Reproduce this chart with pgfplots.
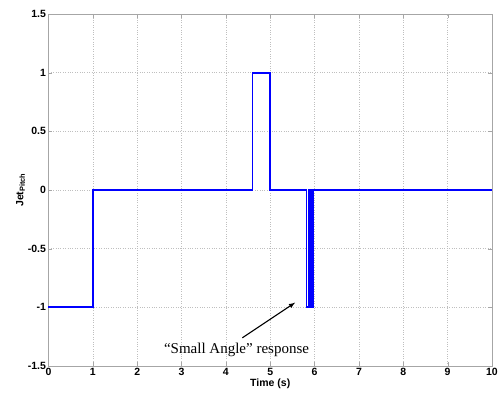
\documentclass[border=0pt]{standalone}
\usepackage{fontspec}
\setmainfont{Liberation Sans}
\newfontfamily\serifann{Liberation Serif}
\usepackage{pgfplots}
\pgfplotsset{compat=1.18}
\begin{document}
\begin{tikzpicture}
\path[use as bounding box] (-48.5pt,-35pt) rectangle (450.5pt,366pt);
\begin{axis}[
    at={(0,0)}, anchor=south west,
    scale only axis,
    width=443.5pt, height=352pt,
    xmin=0, xmax=10, ymin=-1.5, ymax=1.5,
    xtick={0,1,...,10},
    ytick={-1.5,-1,-0.5,0,0.5,1,1.5},
    yticklabels={-1.5,-1,-0.5,0,0.5,1,1.5},
    /pgf/number format/assume math mode=true,
    ticklabel style={font=\fontsize{10.5}{11}\selectfont\bfseries},
    xticklabel style={yshift=1.5pt},
    yticklabel style={xshift=1pt},
    xlabel={Time (s)},
    ylabel={Jet\textsubscript{Pitch}},
    label style={font=\fontsize{10.5}{11}\selectfont\bfseries},
    xlabel style={yshift=3pt},
    ylabel style={yshift=-4pt},
    grid=major,
    grid style={gray!50, dotted},
    axis line style={gray!70},
    tick style={gray!70},
    tick align=inside,
    major tick length=4pt,
    clip=false,
]
\addplot[blue, line width=1.7pt] coordinates {
    (0,-1) (1,-1) (1,0) (4.6,0) (4.6,1) (5.0,1) (5.0,0) (5.82,0) (5.82,-1)
    (5.86,-1) (5.86,0) (5.88,0) (5.88,-1) (5.91,-1) (5.91,0) (5.92,0) (5.92,-1)
    (5.94,-1) (5.94,0) (5.95,0) (5.95,-1) (5.97,-1) (5.97,0) (10,0)
};
\draw[-latex, line width=1.1pt] (axis cs:4.37,-1.26) -- (axis cs:5.56,-0.96);
\node[font=\serifann\fontsize{15}{17}\selectfont] at (axis cs:4.24,-1.36) {“Small Angle” response};
\end{axis}
\end{tikzpicture}
\end{document}
